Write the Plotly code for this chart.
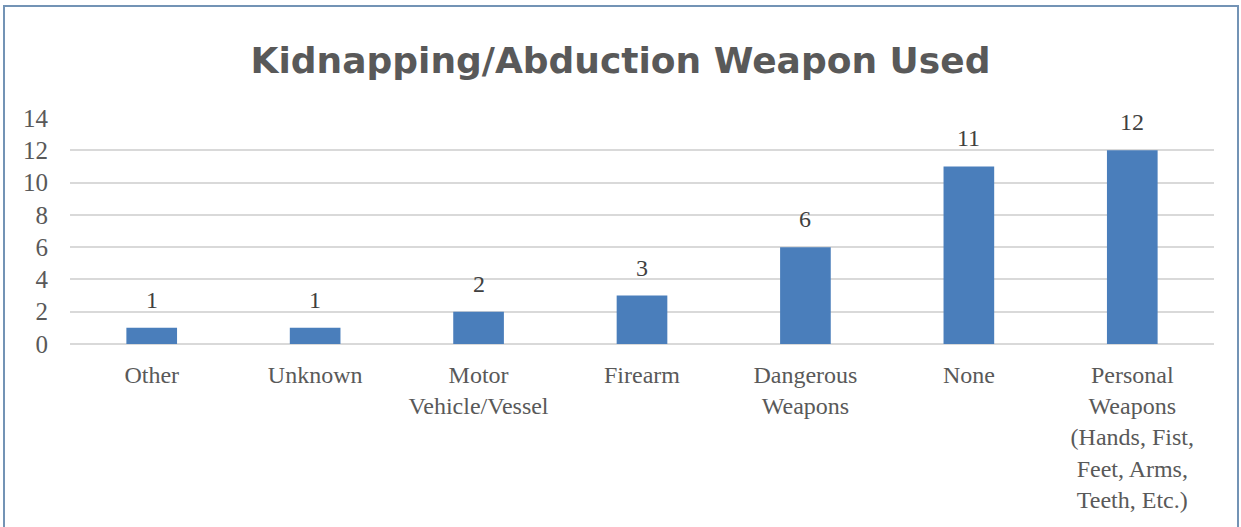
import plotly.graph_objects as go

categories = ["Other", "Unknown", "Motor<br>Vehicle/Vessel", "Firearm", "Dangerous<br>Weapons", "None",
              "Personal<br>Weapons<br>(Hands, Fist,<br>Feet, Arms,<br>Teeth, Etc.)"]
values = [1, 1, 2, 3, 6, 11, 12]
y_ticks = [0, 2, 4, 6, 8, 10, 12, 14]

W, H = 1241, 527
L, R, T, B = 70, 27, 118, 183
pw, ph = W - L - R, H - T - B

fig = go.Figure(go.Bar(
    x=categories, y=values, marker=dict(color="#4a7ebb", line=dict(width=0)),
    width=0.31, hoverinfo="skip"))

for c, v in zip(categories, values):
    fig.add_annotation(x=c, y=v, text=str(v), showarrow=False, yanchor="bottom", yshift=13,
                       font=dict(family="Liberation Serif", size=24, color="#404040"))

def px_x(p):
    return (p - L) / pw

def px_y(p):
    return (H - B - p) / ph

fig.add_shape(type="rect", xref="paper", yref="paper",
              x0=px_x(4), x1=px_x(1238), y0=px_y(540), y1=px_y(6),
              line=dict(color="#7393b5", width=2), fillcolor="rgba(0,0,0,0)", layer="below")

fig.update_layout(
    width=W, height=H, margin=dict(l=L, r=R, t=T, b=B, autoexpand=False),
    paper_bgcolor="white", plot_bgcolor="white", showlegend=False,
    title=dict(text="<b>Kidnapping/Abduction Weapon Used</b>", x=0.5, xanchor="center",
               y=1 - 60 / H, yanchor="middle",
               font=dict(family="DejaVu Sans", size=36, color="#595959")),
    xaxis=dict(showgrid=False, showline=False, ticks="", zeroline=False, automargin=False,
               ticklabelstandoff=14,
               tickfont=dict(family="Liberation Serif", size=24, color="#595959")),
    yaxis=dict(range=[0, 14], tickvals=y_ticks, showgrid=True, gridcolor="#d9d9d9", gridwidth=2,
               zeroline=True, zerolinecolor="#d9d9d9", zerolinewidth=2, showline=False, ticks="",
               ticklabelstandoff=21, automargin=False,
               tickfont=dict(family="Liberation Serif", size=25, color="#595959")),
)

fig.write_html("out.html", config={"displayModeBar": False},
               post_script="document.body.style.margin='0';")
